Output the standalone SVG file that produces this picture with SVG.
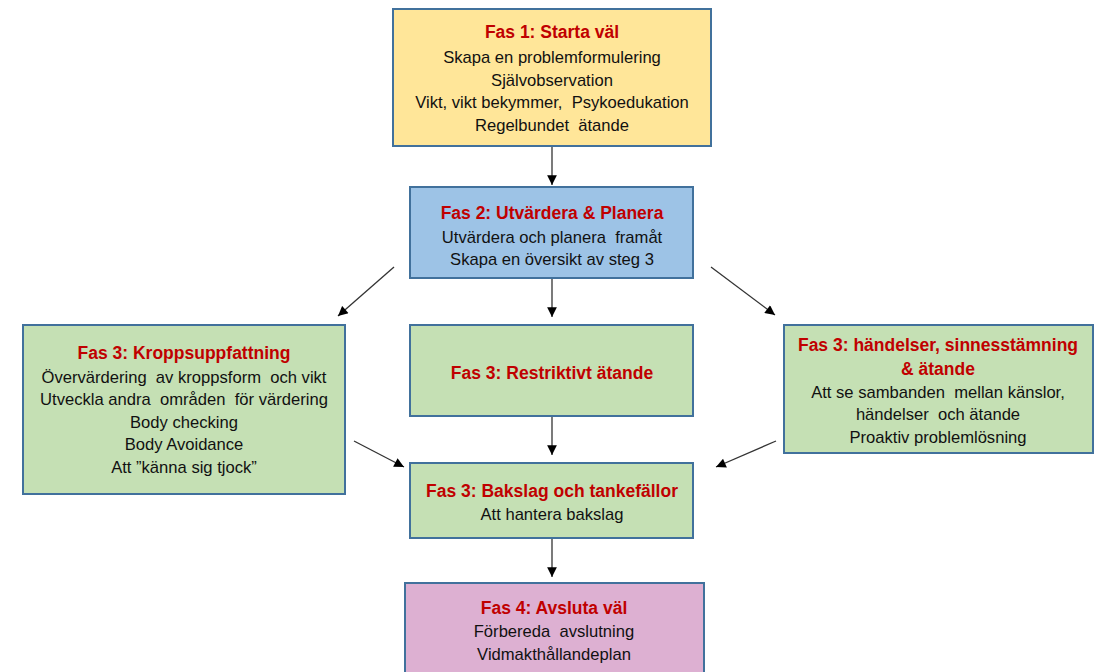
<svg xmlns="http://www.w3.org/2000/svg" width="1099" height="672" viewBox="0 0 1099 672">
  <defs>
    <marker id="arrow" viewBox="0 0 10 10" refX="10" refY="5" markerWidth="8.5" markerHeight="7.5" orient="auto" markerUnits="strokeWidth">
      <path d="M0,0 L10,5 L0,10 z" fill="#000"/>
    </marker>
    <style>
      .box { stroke: #41719C; stroke-width: 2; }
      .yellow { fill: #FFE699; }
      .blue { fill: #9DC3E6; }
      .green { fill: #C5E0B4; }
      .pink { fill: #DDB0D2; }
      text { font-family: "Liberation Sans", Arial, sans-serif; text-anchor: middle; white-space: pre; }
      .title { font-size: 17.5px; font-weight: bold; fill: #C00000; }
      .body { font-size: 16.6px; fill: #111; }
      .conn { stroke: #333; stroke-width: 1.3; fill: none; marker-end: url(#arrow); }
    </style>
  </defs>
  <rect width="1099" height="672" fill="#fff"/>

  <g id="connectors">
    <line class="conn" x1="552" y1="146" x2="552" y2="185"/>
    <line class="conn" x1="552" y1="278" x2="552" y2="317"/>
    <line class="conn" x1="394" y1="267" x2="338" y2="316"/>
    <line class="conn" x1="711" y1="267" x2="775" y2="315"/>
    <line class="conn" x1="552" y1="416" x2="552" y2="455"/>
    <line class="conn" x1="354" y1="441" x2="404" y2="467"/>
    <line class="conn" x1="776" y1="441" x2="716" y2="467"/>
    <line class="conn" x1="552" y1="538" x2="552" y2="577"/>
  </g>

  <g id="fas1">
    <rect class="box yellow" x="393" y="9" width="318" height="137"/>
    <text class="title" x="552" y="38">Fas 1: Starta väl</text>
    <text class="body" x="552" y="63">Skapa en problemformulering</text>
    <text class="body" x="552" y="86">Självobservation</text>
    <text class="body" x="552" y="108">Vikt, vikt bekymmer,  Psykoedukation</text>
    <text class="body" x="552" y="131">Regelbundet  ätande</text>
  </g>

  <g id="fas2">
    <rect class="box blue" x="410" y="187" width="283" height="91"/>
    <text class="title" x="552" y="219">Fas 2: Utvärdera &amp; Planera</text>
    <text class="body" x="552" y="243">Utvärdera och planera  framåt</text>
    <text class="body" x="552" y="265">Skapa en översikt av steg 3</text>
  </g>

  <g id="fas3-kropp">
    <rect class="box green" x="23" y="325" width="322" height="169"/>
    <text class="title" x="184" y="359">Fas 3: Kroppsuppfattning</text>
    <text class="body" x="184" y="383">Övervärdering  av kroppsform  och vikt</text>
    <text class="body" x="184" y="405">Utveckla andra  områden  för värdering</text>
    <text class="body" x="184" y="428">Body checking</text>
    <text class="body" x="184" y="450">Body Avoidance</text>
    <text class="body" x="184" y="473">Att ”känna sig tjock”</text>
  </g>

  <g id="fas3-restriktivt">
    <rect class="box green" x="410" y="325" width="283" height="91"/>
    <text class="title" x="552" y="379">Fas 3: Restriktivt ätande</text>
  </g>

  <g id="fas3-handelser">
    <rect class="box green" x="784" y="325" width="309" height="128"/>
    <text class="title" x="938" y="351">Fas 3: händelser, sinnesstämning</text>
    <text class="title" x="938" y="375">&amp; ätande</text>
    <text class="body" x="938" y="398">Att se sambanden  mellan känslor,</text>
    <text class="body" x="938" y="420">händelser  och ätande</text>
    <text class="body" x="938" y="443">Proaktiv problemlösning</text>
  </g>

  <g id="fas3-bakslag">
    <rect class="box green" x="410" y="463" width="283" height="75"/>
    <text class="title" x="552" y="497">Fas 3: Bakslag och tankefällor</text>
    <text class="body" x="552" y="520">Att hantera bakslag</text>
  </g>

  <g id="fas4">
    <rect class="box pink" x="405" y="583" width="299" height="100"/>
    <text class="title" x="554" y="614">Fas 4: Avsluta väl</text>
    <text class="body" x="554" y="637">Förbereda  avslutning</text>
    <text class="body" x="554" y="660">Vidmakthållandeplan</text>
  </g>
</svg>
